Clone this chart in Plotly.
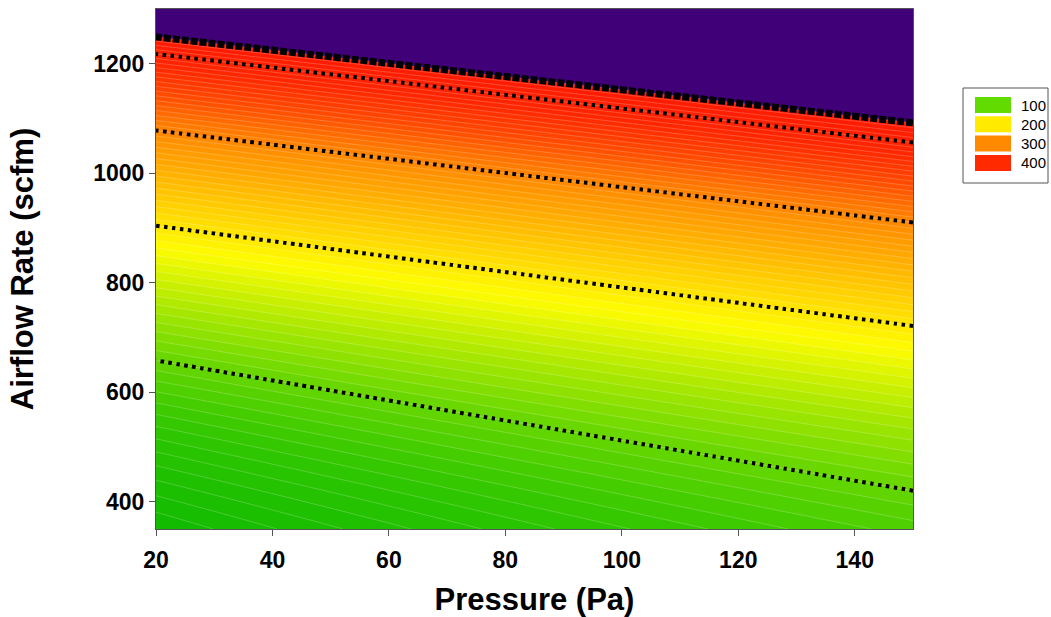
import numpy as np
import plotly.graph_objects as go

# ---- data ----
pressure_ref = [20, 150]                      # Pa, where contour crossings were read
levels = [100, 200, 300, 400, 425]            # contour values (425 = edge of data)
flow_at_p20 = [658, 904, 1078, 1218, 1249]    # scfm at P = 20
flow_at_p150 = [420, 721, 910, 1056, 1092]    # scfm at P = 150
legend_labels = ["100", "200", "300", "400"]
legend_colors = ["#62DC00", "#FFEA00", "#FF8A00", "#FF2A00"]
x_ticks = [20, 40, 60, 80, 100, 120, 140]
y_ticks = [400, 600, 800, 1000, 1200]

# ---- surface built from the read contour crossings ----
P = np.linspace(20, 150, 131)
Q = np.linspace(350, 1300, 381)
lv = np.array(levels, float)
Z = np.empty((len(Q), len(P)))
for j, p in enumerate(P):
    t = (p - pressure_ref[0]) / (pressure_ref[1] - pressure_ref[0])
    qk = np.array(flow_at_p20) * (1 - t) + np.array(flow_at_p150) * t
    q2k = qk ** 2
    q2 = Q ** 2
    z = np.interp(q2, q2k, lv)
    lo = q2 < q2k[0]
    z[lo] = lv[0] + (q2[lo] - q2k[0]) * (lv[1] - lv[0]) / (q2k[1] - q2k[0])
    hi = q2 > q2k[-1]
    z[hi] = lv[-1] + (q2[hi] - q2k[-1]) * (lv[-1] - lv[-2]) / (q2k[-1] - q2k[-2])
    Z[:, j] = z

# contour fill levels
c_start, c_end, c_size = 0.0, 425.0, 6.25
n_lev = int(round((c_end - c_start) / c_size)) + 1
span_lo = c_start - c_size / 2
span = n_lev * c_size
def c(v):
    return min(max((v - span_lo) / span, 0.0), 1.0)
colorscale = [
    [0.0, "rgb(0,180,0)"],
    [c(60), "rgb(45,198,0)"],
    [c(100), "rgb(100,214,0)"],
    [c(150), "rgb(195,238,0)"],
    [c(182), "rgb(255,252,0)"],
    [c(215), "rgb(255,215,0)"],
    [c(300), "rgb(255,135,0)"],
    [c(350), "rgb(255,70,0)"],
    [c(385), "rgb(255,38,0)"],
    [c(424), "rgb(255,25,0)"],
    [c(426), "rgb(64,0,120)"],
    [1.0, "rgb(64,0,120)"],
]

fig = go.Figure()
fig.add_trace(go.Contour(
    x=P, y=Q, z=Z,
    colorscale=colorscale, showscale=False,
    contours=dict(start=c_start, end=c_end, size=c_size, coloring="fill"),
    line=dict(color="rgba(255,255,255,0.35)", width=0.6),
    hoverinfo="skip",
))
fig.add_trace(go.Contour(
    x=P, y=Q, z=Z, showscale=False,
    contours=dict(start=levels[0], end=levels[3], size=100, coloring="none"),
    line=dict(color="black", width=4, dash="3.5px,4.5px"),
    hoverinfo="skip",
))
fig.add_trace(go.Contour(
    x=P, y=Q, z=Z, showscale=False,
    contours=dict(start=levels[4], end=levels[4], size=1, coloring="none"),
    line=dict(color="black", width=7, dash="7px,2px"),
    hoverinfo="skip",
))

# ---- pixel helpers for the legend box ----
L, R, T, B = 156, 913, 9, 529
W, H = 1051, 617
def px(xp):
    return (xp - L) / (R - L)
def py(yp):
    return (B - yp) / (B - T)

shapes = [dict(type="rect", xref="paper", yref="paper",
               x0=px(963), x1=px(1048), y0=py(183), y1=py(88),
               line=dict(color="#555", width=1), fillcolor="white")]
annotations = []
for i, (lab, col) in enumerate(zip(legend_labels, legend_colors)):
    yt = 97 + i * 19.3
    shapes.append(dict(type="rect", xref="paper", yref="paper",
                       x0=px(975), x1=px(1011), y0=py(yt + 16), y1=py(yt),
                       line=dict(width=0), fillcolor=col))
    annotations.append(dict(xref="paper", yref="paper", x=px(1019), y=py(yt + 8),
                            text=lab, showarrow=False, xanchor="left", yanchor="middle",
                            font=dict(family="Liberation Sans, Arial", size=15, color="black")))

axis_common = dict(showline=True, linecolor="#555", linewidth=1, mirror=True,
                   ticks="outside", ticklen=6, tickcolor="#555", showgrid=False,
                   zeroline=False,
                   tickfont=dict(family="Liberation Sans, Arial", size=23, color="black", weight="bold"))

fig.update_layout(
    width=W, height=H,
    margin=dict(l=L, r=W - R, t=T, b=H - B, autoexpand=False),
    plot_bgcolor="white", paper_bgcolor="white",
    showlegend=False,
    shapes=shapes, annotations=annotations,
    xaxis=dict(range=[20, 150], tickvals=x_ticks, ticklabelstandoff=4, **axis_common,
               title=dict(text="<b>Pressure (Pa)</b>", standoff=18,
                          font=dict(family="Liberation Sans, Arial", size=31, color="black"))),
    yaxis=dict(range=[350, 1300], tickvals=y_ticks, **axis_common,
               title=dict(text="<b>Airflow Rate (scfm)</b>", standoff=50,
                          font=dict(family="Liberation Sans, Arial", size=31, color="black"))),
)

fig.write_html("out.html")
